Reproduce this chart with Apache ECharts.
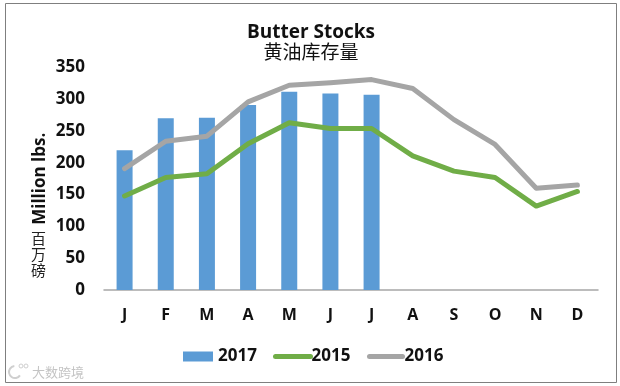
<!DOCTYPE html>
<html><head><meta charset="utf-8">
<style>html,body{margin:0;padding:0;background:#fff}#c{width:620px;height:386px}</style>
<script src="https://cdn.jsdelivr.net/npm/echarts@6/dist/echarts.min.js"></script>
</head><body><div id="c"></div>
<script>
const months = ['J','F','M','A','M','J','J','A','S','O','N','D'];
const yTicks = { min: 0, max: 350, interval: 50 };
const s2017 = [220,270,271,291,312,309,307,null,null,null,null,null];
const s2015 = [148,177,183,230,263,254,254,211,187,177,132,155];
const s2016 = [191,234,242,296,322,326,331,317,268,229,160,165];
const font = '"Open Sans","Noto Sans",sans-serif';
const cjk = '"Noto Sans CJK SC",sans-serif';
const legendText = {fontFamily:font,fontWeight:'bold',fontSize:17,color:'#111'};
const legendLine = (name,left,w,pad) => ({
  left, top:348, padding:0, itemWidth:w, itemHeight:10,
  textStyle:Object.assign({},legendText,{padding:[0,0,0,pad]}),
  data:[{name,itemStyle:{opacity:0}}],
  lineStyle:{width:5,cap:'round'}
});
const chart = echarts.init(document.getElementById('c'), null, {renderer:'canvas'});
chart.setOption({
  animation:false,
  backgroundColor:'#fff',
  title:{
    text:'Butter Stocks', subtext:'黄油库存量', left:306, top:18, textAlign:'center', itemGap:0,
    textStyle:{fontFamily:font,fontWeight:'bold',fontSize:19,color:'#111'},
    subtextStyle:{fontFamily:cjk,fontSize:19,color:'#111'}
  },
  grid:{left:104,right:22,top:67.5,bottom:96,containLabel:false},
  legend:[
    {left:183,top:348,padding:0,itemWidth:30,itemHeight:10,textStyle:legendText,data:[{name:'2017',icon:'rect'}]},
    legendLine('2015',273,35,-4),
    legendLine('2016',367,33,-3)
  ],
  xAxis:{
    type:'category', data:months,
    axisLine:{lineStyle:{color:'#a6a6a6',width:1.5}},
    axisTick:{show:false},
    axisLabel:{fontFamily:font,fontWeight:'bold',fontSize:16,color:'#111',margin:17}
  },
  yAxis:{
    type:'value', min:yTicks.min, max:yTicks.max, interval:yTicks.interval,
    name:'Million lbs.', nameLocation:'middle', nameGap:55, nameRotate:90, nameMoveOverlap:false,
    nameTextStyle:{fontFamily:font,fontWeight:'bold',fontSize:17,color:'#111'},
    axisLine:{show:false}, axisTick:{show:false}, splitLine:{show:false},
    axisLabel:{fontFamily:font,fontWeight:'bold',fontSize:17,color:'#111',margin:19,padding:[2,0,0,0]}
  },
  series:[
    {name:'2017',type:'bar',data:s2017,barWidth:16,itemStyle:{color:'#5b9bd5'}},
    {name:'2015',type:'line',data:s2015,symbol:'none',lineStyle:{color:'#70ad47',width:5,cap:'round',join:'round'},itemStyle:{color:'#70ad47'}},
    {name:'2016',type:'line',data:s2016,symbol:'none',lineStyle:{color:'#a5a5a5',width:5,cap:'round',join:'round'},itemStyle:{color:'#a5a5a5'}}
  ],
  graphic:[
    {type:'rect',silent:true,z:-1,shape:{x:5.5,y:3.5,width:611,height:379},style:{fill:'none',stroke:'#7f7f7f',lineWidth:1}},
    {type:'text',left:31,top:230,style:{text:'百\n万\n磅',fontFamily:cjk,fontSize:15,lineHeight:16,fill:'#222'}},
    {type:'text',left:32,top:366,style:{text:'大数跨境',fontFamily:cjk,fontSize:13,fill:'#c4c4c4'}},
    {type:'arc',shape:{cx:15,cy:372,r:6,startAngle:0.6,endAngle:4.6},style:{fill:'none',stroke:'#cfcfcf',lineWidth:2}},
    {type:'circle',shape:{cx:21,cy:366,r:2},style:{fill:'none',stroke:'#cfcfcf',lineWidth:1}},
    {type:'circle',shape:{cx:26,cy:366,r:2},style:{fill:'none',stroke:'#cfcfcf',lineWidth:1}}
  ]
});
</script></body></html>
